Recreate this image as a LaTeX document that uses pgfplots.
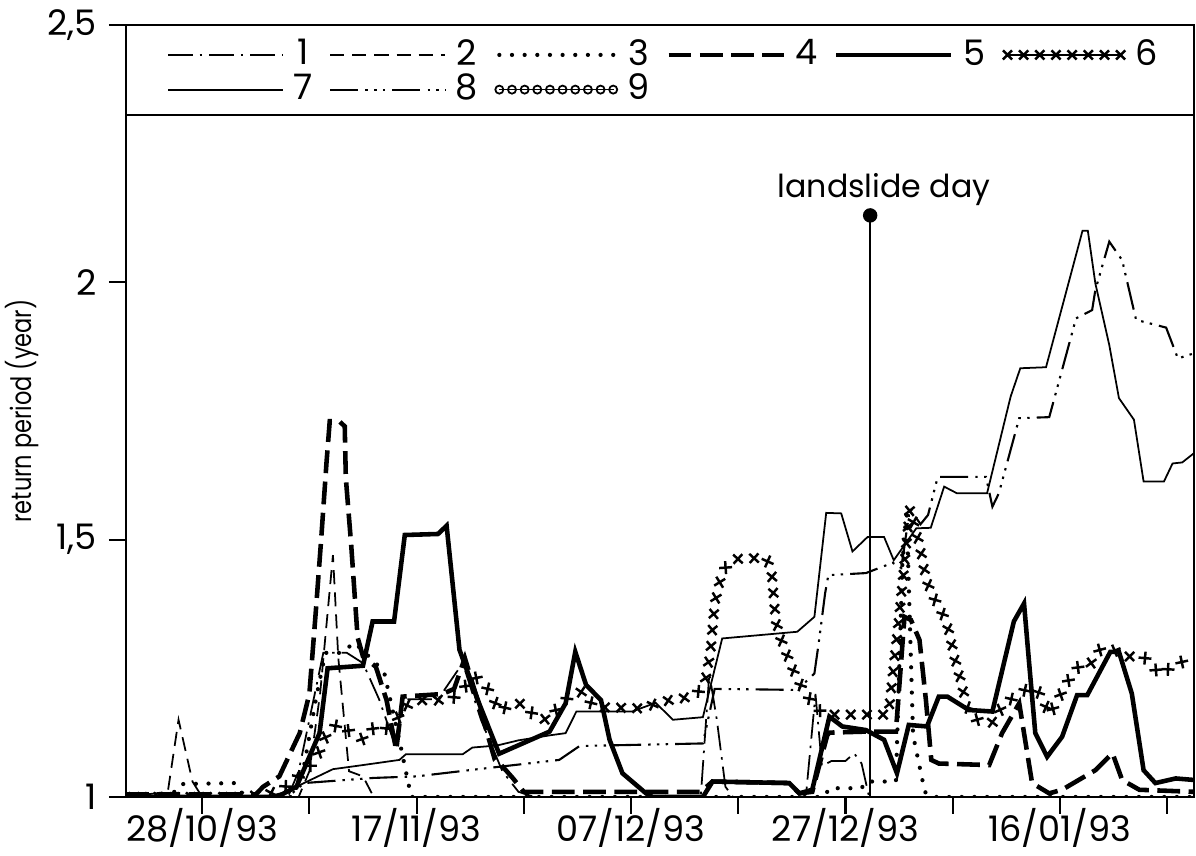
\documentclass[border=0pt]{standalone}
\usepackage{fontspec}
\setmainfont{Poppins}
\usepackage{pgfplots}
\pgfplotsset{compat=1.18}
\usetikzlibrary{decorations.markings}

% line styles of the nine stations
\tikzset{
  s1/.style={line width=0.5pt, dash pattern=on 7pt off 2pt on 0.7pt off 2pt},
  s2/.style={line width=0.5pt, dash pattern=on 4pt off 2.3pt},
  s3/.style={line width=1.2pt, line cap=round, dash pattern=on 0pt off 3.6pt},
  s4/.style={line width=1.3pt, dash pattern=on 6.5pt off 2.4pt},
  s5/.style={line width=1.3pt},
  s6/.style={draw=none, postaction={decorate, decoration={markings,
      mark=between positions 0 and 1 step 4.6pt with
      {\draw[draw=black, solid, line width=0.7pt] (-1.3pt,-1.3pt)--(1.3pt,1.3pt) (-1.3pt,1.3pt)--(1.3pt,-1.3pt);}}}},
  s7/.style={line width=0.5pt},
  s8/.style={line width=0.6pt, dash pattern=on 8pt off 2pt on 0.7pt off 1.8pt on 0.7pt off 1.8pt on 0.7pt off 2pt},
  s9/.style={draw=none, postaction={decorate, decoration={markings,
      mark=between positions 0 and 1 step 3.6pt with
      {\draw[draw=black, solid, line width=0.5pt] (0,0) circle (1.15pt);}}}},
}

\begin{document}
\begin{tikzpicture}
\begin{axis}[
  scale only axis, width=10.68cm, height=7.72cm,
  xmin=-7.1, xmax=92.5, ymin=1, ymax=2.5,
  axis line style={line width=0.6pt},
  xtick={0,10,...,90},
  xticklabels={28/10/93,{},17/11/93,{},07/12/93,{},27/12/93,{},16/01/93,{}},
  ytick={1,1.5,2,2.5},
  yticklabels={1,{1,5},2,{2,5}},
  tick align=outside, xtick pos=bottom, ytick pos=left,
  major tick length=0.17cm,
  tick style={line width=0.6pt, black},
  ticklabel style={font=\fontsize{10}{12}\selectfont},
  xticklabel style={inner sep=0.5pt, yshift=0.08cm},
  ylabel={\scalebox{0.8}[1]{return period (year)}},
  every axis y label/.style={at={(rel axis cs:0,0.5)}, xshift=-1.04cm, rotate=90,
     anchor=center, font=\fontsize{8}{9}\selectfont},
  legend columns=6,
  legend style={at={(rel axis cs:0.028,0.996)}, anchor=north west, draw=none, fill=none,
     font=\fontsize{10}{12}\selectfont, row sep=-1pt,
     nodes={inner sep=1pt},
     /tikz/every odd column/.append style={column sep=0.06cm},
     /tikz/every even column/.append style={column sep=0.13cm}},
  legend image code/.code={\draw[#1] (0cm,0cm) -- (1.15cm,0cm);},
]

\addplot[s1] table {
-7.1 1.0
8 1.0
9 1.05
10.5 1.2
11.3 1.28
13.5 1.28
15 1.26
16.5 1.19
18 1.10
18.7 1.19
22 1.19
24.3 1.26
26 1.15
28 1.05
29.5 1.01
31 1.0
46.5 1.0
47.3 1.24
48 1.15
48.8 1.02
49.5 1.0
56.3 1.0
57.2 1.2
57.8 1.06
58.7 1.07
60 1.07
60.8 1.085
61.5 1.065
62.2 1.0
92.5 1.0
};
\addlegendentry{1}

\addplot[s2] table {
-7.1 1.0
-3.2 1.01
-2.2 1.15
-0.9 1.03
0 1.0
9 1.0
10 1.05
11 1.2
12.2 1.47
12.7 1.27
13.7 1.05
15 1.04
16 1.0
92.5 1.0
};
\addlegendentry{2}

\addplot[s3] table {
-7.1 1.0
-3 1.0
-2 1.025
3 1.027
4 1.0
8.5 1.0
9.5 1.06
10.7 1.2
11.5 1.28
13 1.28
14.2 1.30
16.2 1.26
17 1.24
18.5 1.1
19.5 1.0
58 1.0
58.5 1.017
61.5 1.017
61.9 1.03
64.7 1.03
65.3 1.45
65.7 1.56
66.3 1.12
67.4 1.01
68 1.0
92.5 1.0
};
\addlegendentry{3}

\addplot[s4] table {
-7.1 1.005
5 1.005
5.7 1.02
7.2 1.04
9.1 1.124
10 1.2
10.6 1.36
11.1 1.50
11.6 1.65
11.9 1.73
12.8 1.73
13.3 1.72
13.4 1.62
13.9 1.49
14.5 1.31
15.0 1.273
16.2 1.253
17.2 1.188
18.1 1.091
18.7 1.195
22.4 1.20
23.5 1.21
24.5 1.27
26.0 1.166
27.3 1.072
27.9 1.062
29.0 1.036
30 1.01
46.5 1.01
47.6 1.03
54.7 1.027
55.7 1.007
56.9 1.01
58.3 1.12
58.5 1.125
61.9 1.127
64.7 1.127
65.5 1.350
66.1 1.344
66.9 1.305
67.5 1.188
68.0 1.072
68.7 1.065
73.4 1.062
74.6 1.124
76.2 1.182
77.4 1.027
79.0 1.007
80.2 1.014
83.3 1.052
84.9 1.085
85.8 1.033
87.4 1.014
92.5 1.010
};
\addlegendentry{4}

\addplot[s5] table {
-7.1 1.0
7 1.0
8.8 1.02
10.95 1.124
11.7 1.25
15.0 1.255
15.9 1.341
17.9 1.341
18.9 1.509
22.0 1.511
22.8 1.527
24.0 1.286
25.9 1.178
27.7 1.084
32.4 1.127
33.9 1.182
34.8 1.282
35.8 1.218
37.2 1.188
38.0 1.111
39.2 1.046
41.4 1.007
42 1.0
46.7 1.0
47.6 1.03
54.75 1.027
55.7 1.007
56.9 1.014
58.5 1.156
59.7 1.137
61.9 1.130
63.6 1.111
64.8 1.046
65.9 1.140
67.6 1.137
68.7 1.195
69.5 1.195
71.5 1.169
73.7 1.166
75.7 1.341
76.65 1.376
77.1 1.266
77.7 1.124
78.8 1.078
80.2 1.117
81.6 1.198
82.55 1.198
84.7 1.282
85.5 1.282
86.7 1.201
87.8 1.052
88.9 1.027
90.8 1.036
92.5 1.033
};
\addlegendentry{5}

\addplot[s6] table {
-7.1 1.0
3 1.0
6 1.005
7.5 1.015
8.3 1.03
9.4 1.046
10.5 1.069
11.1 1.095
11.7 1.127
12.8 1.143
14.2 1.12
15.1 1.111
16.2 1.14
17.2 1.133
18.2 1.150
18.7 1.175
20.4 1.188
22.0 1.188
23.4 1.192
24.3 1.208
25.3 1.235
26.3 1.221
27.0 1.198
27.7 1.166
28.8 1.181
30.1 1.181
31.1 1.153
32.4 1.150
33.3 1.179
34.6 1.201
35.6 1.205
36.5 1.175
41 1.172
42.8 1.185
44.2 1.19
45.7 1.195
46.8 1.214
47.4 1.28
47.8 1.376
48.5 1.438
49.5 1.462
52.6 1.465
53.1 1.438
53.5 1.341
54.0 1.305
54.6 1.273
55.2 1.243
56.0 1.21
57.0 1.18
58.0 1.16
64.0 1.16
65.0 1.35
66.0 1.56
66.9 1.490
67.5 1.425
68.0 1.396
68.7 1.370
69.4 1.341
69.8 1.308
70.1 1.276
70.9 1.214
71.2 1.182
71.8 1.156
72.9 1.143
74.0 1.146
74.6 1.179
75.6 1.192
77.0 1.211
77.9 1.208
78.7 1.175
79.0 1.159
79.8 1.188
80.5 1.218
81.5 1.247
82.1 1.263
83.0 1.260
83.8 1.289
84.9 1.286
86.4 1.273
87.8 1.273
88.6 1.253
89.5 1.237
90.5 1.256
91.3 1.263
92.5 1.247
};
\addlegendentry{6}

\addplot[s7] table {
-7.1 1.0
6 1.0
7.5 1.008
8.8 1.020
12.2 1.054
15.0 1.062
18.4 1.072
19.0 1.083
24.3 1.083
25.2 1.096
27.5 1.10
29.5 1.11
32.5 1.12
33.9 1.124
34.9 1.166
40.1 1.166
42.3 1.183
43.9 1.150
46.7 1.155
48.5 1.308
55.5 1.321
57.1 1.350
58.2 1.552
59.6 1.551
60.65 1.477
62.05 1.505
63.6 1.505
64.5 1.460
66.6 1.522
67.95 1.523
69.2 1.603
70.4 1.590
73.2 1.590
75.4 1.778
76.3 1.833
78.7 1.835
82.1 2.10
82.6 2.10
83.3 1.998
84.6 1.878
85.5 1.775
86.9 1.733
87.8 1.613
89.7 1.613
90.5 1.648
91.4 1.650
92.5 1.668
};
\addlegendentry{7}

\addplot[s8] table {
-7.1 1.0
8 1.0
9.5 1.027
16 1.037
20 1.04
24.9 1.052
33.3 1.072
35.2 1.099
46.7 1.104
47.8 1.21
55.5 1.208
57.1 1.240
57.5 1.299
58.1 1.396
58.4 1.431
61.9 1.435
64.4 1.455
65.2 1.445
66.0 1.56
67.0 1.53
67.7 1.548
68.6 1.622
73.1 1.622
73.7 1.564
74.3 1.590
76.2 1.736
79.0 1.738
80.2 1.830
81.5 1.930
83.0 1.946
83.3 1.985
84.6 2.079
85.8 2.043
87.1 1.927
89.9 1.912
91.0 1.852
92.5 1.862
};
\addlegendentry{8}

\addplot[s9] table {
-7.1 1.0
8 1.0
9 1.014
19 1.014
24 1.017
24.9 1.020
35.2 1.028
40 1.03
46.2 1.030
47.3 1.045
48.2 1.058
49.5 1.067
55.7 1.070
56.8 1.078
57.4 1.098
57.8 1.117
58.6 1.145
59.9 1.150
62.4 1.153
63.6 1.156
64.8 1.163
65.6 1.182
66.0 1.206
68.0 1.212
68.9 1.234
73.7 1.237
74.5 1.256
75.9 1.299
76.7 1.319
79.0 1.323
79.6 1.345
80.2 1.367
80.8 1.389
81.6 1.412
82.7 1.416
83.3 1.435
84.1 1.454
84.9 1.476
89.7 1.476
90.5 1.495
91.7 1.503
92.5 1.51
};
\addlegendentry{9}

% landslide day marker
\addplot[forget plot, line width=0.5pt, mark=*, mark indices={2}, mark size=1.8pt]
  coordinates {(62.3,1) (62.3,2.13)};
\node[above, font=\fontsize{9}{11}\selectfont, inner sep=1pt] at (axis cs:63.6,2.14) {landslide day};

% rule under the legend
\draw[line width=0.6pt] (rel axis cs:0,0.883) -- (rel axis cs:1,0.883);
\end{axis}
\pgfresetboundingbox
\path ([xshift=-1.26cm,yshift=-0.59cm]current axis.south west)
  rectangle ([xshift=0.02cm,yshift=0.25cm]current axis.north east);
\end{tikzpicture}
\end{document}
